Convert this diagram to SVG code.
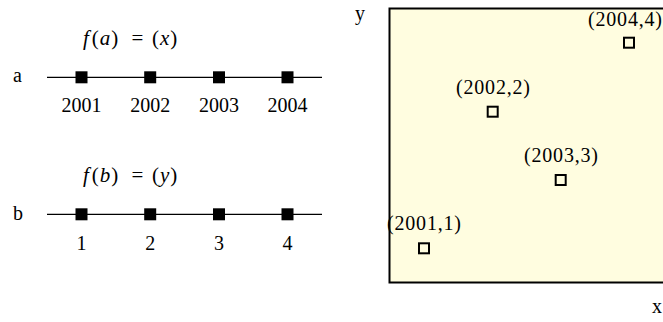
<svg xmlns="http://www.w3.org/2000/svg" width="663" height="322" viewBox="0 0 663 322">
<style>
text{font-family:"Liberation Serif","Times New Roman",serif;font-size:20px;fill:#000}
.m{font-size:21px}
.i{font-style:italic}
.c{text-anchor:middle}
.ax{stroke:#000;stroke-width:1.3;fill:none}
.fs{fill:#000}
.os{fill:none;stroke:#000;stroke-width:2}
</style>
<rect width="663" height="322" fill="#fff"/>
<g id="panel-a">
<text class="m" x="83" y="45"><tspan class="i">f</tspan><tspan dx="3">(</tspan><tspan class="i" dx="1">a</tspan><tspan dx="1">)</tspan></text>
<text class="c m" x="137.5" y="45">=</text>
<text class="m" x="152" y="45">(<tspan class="i" dx="1">x</tspan><tspan dx="1">)</tspan></text>
<text x="13" y="82">a</text>
<line class="ax" x1="47" y1="77.3" x2="322" y2="77.3"/>
<rect class="fs" x="75.5" y="71.3" width="12" height="12"/>
<rect class="fs" x="144.2" y="71.3" width="12" height="12"/>
<rect class="fs" x="213" y="71.3" width="12" height="12"/>
<rect class="fs" x="281.5" y="71.3" width="12" height="12"/>
<text class="c" x="81.5" y="112">2001</text>
<text class="c" x="150.2" y="112">2002</text>
<text class="c" x="219" y="112">2003</text>
<text class="c" x="287.5" y="112">2004</text>
</g>
<g id="panel-b">
<text class="m" x="83" y="182"><tspan class="i">f</tspan><tspan dx="3">(</tspan><tspan class="i" dx="1">b</tspan><tspan dx="1">)</tspan></text>
<text class="c m" x="137.5" y="182">=</text>
<text class="m" x="152" y="182">(<tspan class="i" dx="1">y</tspan><tspan dx="1">)</tspan></text>
<text x="13" y="220">b</text>
<line class="ax" x1="47" y1="214.3" x2="322" y2="214.3"/>
<rect class="fs" x="75.5" y="208.3" width="12" height="12"/>
<rect class="fs" x="144.2" y="208.3" width="12" height="12"/>
<rect class="fs" x="213" y="208.3" width="12" height="12"/>
<rect class="fs" x="281.5" y="208.3" width="12" height="12"/>
<text class="c" x="81.5" y="250">1</text>
<text class="c" x="150.2" y="250">2</text>
<text class="c" x="219" y="250">3</text>
<text class="c" x="287.5" y="250">4</text>
</g>
<g id="plot">
<rect x="389.5" y="8.5" width="290" height="274" fill="#fffde0" stroke="#000" stroke-width="2"/>
<text x="355" y="20">y</text>
<text x="652" y="313">x</text>
<rect class="os" x="624" y="37.7" width="10" height="10"/>
<text x="588" y="26" textLength="74" lengthAdjust="spacing">(2004,4)</text>
<rect class="os" x="487.7" y="106.7" width="10" height="10"/>
<text x="456" y="94" textLength="74" lengthAdjust="spacing">(2002,2)</text>
<rect class="os" x="555.7" y="175" width="10" height="10"/>
<text x="524" y="162" textLength="74" lengthAdjust="spacing">(2003,3)</text>
<rect class="os" x="419" y="243.3" width="10" height="10"/>
<text x="387" y="230" textLength="74" lengthAdjust="spacing">(2001,1)</text>
</g>
</svg>
